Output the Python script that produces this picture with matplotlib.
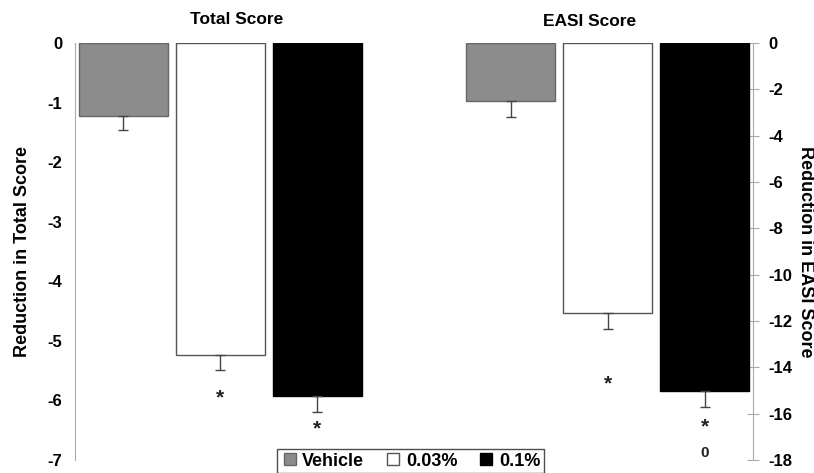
import matplotlib
matplotlib.use("Agg")
import matplotlib.pyplot as plt
from matplotlib.lines import Line2D

plt.rcParams['font.family'] = ['Liberation Sans', 'DejaVu Sans']
plt.rcParams['font.weight'] = 'bold'
plt.rcParams['axes.unicode_minus'] = False

groups = ["Vehicle", "0.03%", "0.1%"]
total_vals = [-1.22, -5.23, -5.93]
total_err = [0.24, 0.26, 0.27]
total_star = [None, -5.96, -6.48]
easi_vals = [-2.5, -11.64, -15.0]
easi_err = [0.7, 0.7, 0.73]
easi_star = [None, -14.7, -16.55]
easi_note = [None, None, -17.7]
fills = ["#8c8c8c", "#ffffff", "#000000"]
edges = ["#666666", "#555555", "#000000"]

fig = plt.figure(figsize=(8.14, 4.73), dpi=100)
ax = fig.add_axes([0.0921, 0.0275, 0.8329, 0.8815])
ax2 = ax.twinx()

width = 0.92
for i in range(3):
    ax.bar(i, total_vals[i], width=width, color=fills[i], edgecolor=edges[i],
           linewidth=1.0, zorder=2)
    ax.errorbar(i, total_vals[i], yerr=[[total_err[i]], [0]], fmt='none',
                ecolor='#444444', elinewidth=1, capsize=3.5, capthick=1, zorder=3)
    if total_star[i] is not None:
        ax.text(i, total_star[i], "*", ha='center', va='center', fontsize=15,
                color='#222222')
    x = i + 4
    ax2.bar(x, easi_vals[i], width=width, color=fills[i], edgecolor=edges[i],
            linewidth=1.0, zorder=2)
    ax2.errorbar(x, easi_vals[i], yerr=[[easi_err[i]], [0]], fmt='none',
                 ecolor='#444444', elinewidth=1, capsize=3.5, capthick=1, zorder=3)
    if easi_star[i] is not None:
        ax2.text(x, easi_star[i], "*", ha='center', va='center', fontsize=15,
                 color='#222222')
    if easi_note[i] is not None:
        ax2.text(x, easi_note[i], "0", ha='center', va='center', fontsize=11,
                 color='#222222')

ax.set_xlim(-0.5, 6.5)
ax.set_ylim(-7, 0)
ax2.set_ylim(-18, 0)
ax.set_yticks(range(-7, 1))
ax2.set_yticks(range(-18, 1, 2))
ax.set_xticks([])

for a in (ax, ax2):
    for s in ('top', 'bottom'):
        a.spines[s].set_visible(False)
ax.spines['right'].set_visible(False)
ax.spines['left'].set_color('#aaaaaa')
ax2.spines['left'].set_visible(False)
ax2.spines['right'].set_color('#aaaaaa')

ax.tick_params(axis='y', length=0, pad=9, labelsize=12)
ax2.tick_params(axis='y', direction='inout', length=8, color='#aaaaaa',
                pad=7, labelsize=12)
for lab in ax.get_yticklabels() + ax2.get_yticklabels():
    lab.set_fontweight('bold')

ax.set_ylabel("Reduction in Total Score", fontsize=13, fontweight='bold',
              labelpad=12)
ax2.set_ylabel("Reduction in EASI Score", fontsize=13, fontweight='bold',
               rotation=270, labelpad=16)

fig.text(237 / 814, 1 - 20 / 473, "Total Score", ha='center', va='center',
         fontsize=12.5, fontweight='bold')
fig.text(590 / 814, 1 - 22 / 473, "EASI Score", ha='center', va='center',
         fontsize=12.5, fontweight='bold')

handles = [Line2D([], [], marker='s', linestyle='none', markersize=9,
                  markerfacecolor=fills[i], markeredgecolor=edges[i])
           for i in range(3)]
leg = fig.legend(handles, groups, loc='upper left',
                 bbox_to_anchor=(277 / 814, 1 - 449 / 473), ncol=3,
                 frameon=True, fancybox=False, handletextpad=0.2,
                 columnspacing=1.1, borderpad=0.2, borderaxespad=0,
                 handlelength=1.0, prop={'weight': 'bold', 'size': 13})
leg.get_frame().set_edgecolor('#222222')
leg.get_frame().set_linewidth(1.0)

fig.savefig("out.png", dpi=100)
